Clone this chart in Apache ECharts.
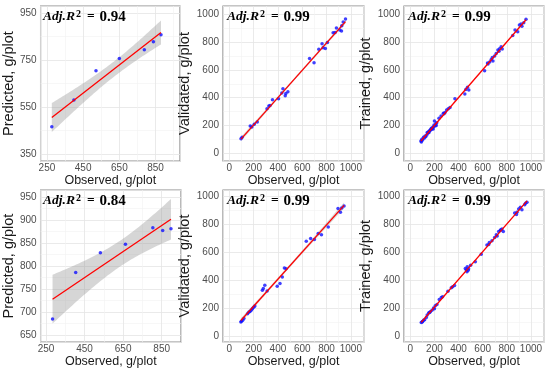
<!DOCTYPE html>
<html><head><meta charset="utf-8">
<script src="https://cdn.jsdelivr.net/npm/echarts@6/dist/echarts.min.js"></script>
<style>html,body{margin:0;padding:0;background:#fff}#c{width:550px;height:374px}</style>
</head><body><div id="c"></div>
<script>
// ---------- data ----------
const tlObserved  = [277, 399, 521, 650, 788, 838, 880];
const tlPredicted = [466, 580, 704, 756, 794, 828, 858];

const tmObserved  = [96, 105, 172, 185, 205, 230, 310, 325, 335, 355, 405, 432, 441, 460, 465, 482, 660, 697, 736, 763, 771, 790, 807, 854, 870, 881, 909, 923, 925, 937, 956];
const tmValidated = [105, 115, 197, 190, 210, 225, 320, 340, 345, 385, 393, 435, 465, 415, 430, 444, 683, 652, 748, 789, 760, 755, 798, 868, 870, 902, 887, 880, 918, 945, 966];

const trObserved = [88, 96, 110, 123, 137, 145, 151, 159, 170, 178, 184, 192, 197, 200, 205, 211, 219, 238, 255, 274, 288, 301, 315, 329, 370, 452, 460, 474, 485, 616, 644, 658, 671, 685, 699, 712, 726, 740, 753, 762, 849, 868, 890, 904, 918, 940, 959,
                    92, 100, 115, 128, 140, 155, 165, 175, 190, 215, 280, 640, 680, 735, 925];
const trTrained  = [89, 101, 115, 125, 132, 144, 156, 163, 173, 173, 185, 192, 204, 233, 197, 211, 221, 252, 269, 288, 293, 312, 321, 329, 393, 427, 460, 475, 456, 595, 643, 657, 676, 664, 700, 719, 743, 753, 767, 751, 847, 887, 875, 923, 930, 940, 964,
                    82, 95, 108, 120, 150, 150, 165, 180, 175, 200, 285, 650, 690, 735, 915];

const blObserved  = [284, 404, 532, 662, 804, 855, 898];
const blPredicted = [685, 786, 829, 847, 883, 877, 881];

const bmObserved  = [95, 100, 110, 120, 150, 160, 170, 180, 190, 200, 210, 272, 280, 292, 311, 394, 417, 436, 453, 467, 633, 669, 700, 731, 758, 814, 894, 914, 925, 944];
const bmValidated = [100, 105, 112, 125, 160, 170, 175, 185, 195, 205, 215, 327, 340, 364, 322, 356, 375, 422, 487, 482, 678, 697, 690, 733, 725, 780, 912, 885, 916, 931];

const brObserved = [91, 102, 119, 133, 152, 166, 180, 193, 207, 221, 240, 257, 268, 312, 340, 351, 367, 456, 464, 472, 483, 500, 539, 588, 635, 655, 677, 699, 713, 732, 746, 760, 771, 865, 884, 898, 912, 925, 948, 967,
                    98, 110, 140, 160, 200, 470, 480, 650, 720, 750, 880, 955];
const brTrained  = [96, 103, 117, 132, 165, 173, 185, 201, 216, 225, 261, 276, 281, 321, 345, 353, 362, 484, 472, 496, 482, 506, 532, 585, 652, 669, 681, 705, 724, 748, 755, 765, 748, 880, 885, 909, 921, 904, 940, 957,
                    100, 112, 150, 168, 195, 460, 470, 655, 715, 760, 870, 950];

const r2Labels = ['0.94', '0.99', '0.99', '0.84', '0.99', '0.99'];
const yTitles  = ['Predicted, g/plot', 'Validated, g/plot', 'Trained, g/plot',
                  'Predicted, g/plot', 'Validated, g/plot', 'Trained, g/plot'];
const xTitle   = 'Observed, g/plot';

// ---------- layout (positions / axis ranges) ----------
const panels = [
  {obs: tlObserved, val: tlPredicted, grid: {left: 39, top: 6, width: 141, height: 155},
   x: {min: 215, max: 985, step: 200, off: 50}, y: {min: 320, max: 980, step: 200, off: 150}},
  {obs: tmObserved, val: tmValidated, grid: {left: 223, top: 6, width: 141, height: 155},
   x: {min: -52, max: 1108, step: 200, off: 0}, y: {min: -55, max: 1060, step: 200, off: 0}},
  {obs: trObserved, val: trTrained, grid: {left: 404, top: 6, width: 140, height: 155},
   x: {min: -52, max: 1108, step: 200, off: 0}, y: {min: -55, max: 1060, step: 200, off: 0}},
  {obs: blObserved, val: blPredicted, grid: {left: 39, top: 190, width: 142, height: 152},
   x: {min: 222, max: 950, step: 200, off: 50}, y: {min: 635, max: 965, step: 50, off: 0}},
  {obs: bmObserved, val: bmValidated, grid: {left: 223, top: 190, width: 141, height: 152},
   x: {min: -52, max: 1108, step: 200, off: 0}, y: {min: -43, max: 1045, step: 200, off: 0}},
  {obs: brObserved, val: brTrained, grid: {left: 404, top: 190, width: 140, height: 152},
   x: {min: -52, max: 1108, step: 200, off: 0}, y: {min: -43, max: 1045, step: 200, off: 0}}
];

// ---------- linear fit + 95% confidence band ----------
function tq975(df) {
  const z = 1.959964, z3 = z*z*z, z5 = z3*z*z, z7 = z5*z*z, z9 = z7*z*z;
  return z + (z3 + z)/(4*df) + (5*z5 + 16*z3 + 3*z)/(96*df*df)
    + (3*z7 + 19*z5 + 17*z3 - 15*z)/(384*Math.pow(df,3))
    + (79*z9 + 776*z7 + 1482*z5 - 1920*z3 - 945*z)/(92160*Math.pow(df,4));
}
function fit(xs, ys) {
  const n = xs.length;
  const mx = xs.reduce((a,b)=>a+b,0)/n, my = ys.reduce((a,b)=>a+b,0)/n;
  let sxx = 0, sxy = 0;
  for (let i = 0; i < n; i++) { sxx += (xs[i]-mx)**2; sxy += (xs[i]-mx)*(ys[i]-my); }
  const b = sxy/sxx, a = my - b*mx;
  let sse = 0;
  for (let i = 0; i < n; i++) sse += (ys[i] - a - b*xs[i])**2;
  const s = Math.sqrt(sse/(n-2)), t = tq975(n-2);
  const x0 = Math.min(...xs), x1 = Math.max(...xs);
  const band = [];
  const N = 60;
  for (let k = 0; k <= N; k++) {
    const x = x0 + (x1 - x0)*k/N;
    const yh = a + b*x;
    const h = t*s*Math.sqrt(1/n + (x-mx)**2/sxx);
    band.push([x, yh - h, yh + h]);
  }
  return {a, b, x0, x1, band};
}

// ---------- build option ----------
const labelFont = 'Liberation Sans, Arial, sans-serif';
const grids = [], xAxes = [], yAxes = [], series = [], titles = [];

panels.forEach((p, i) => {
  grids.push(Object.assign({show: true, borderColor: '#8c8c8c', borderWidth: 1.2, backgroundColor: '#ffffff'}, p.grid));
  const mkAxis = (ax, isX) => ({
    gridIndex: i, type: 'value',
    min: ax.min - ax.off, max: ax.max - ax.off,
    minInterval: ax.step, maxInterval: ax.step,
    axisLine: {show: false}, axisTick: {show: false},
    minorTick: {show: false, splitNumber: 2},
    axisLabel: {show: true, showMinLabel: false, showMaxLabel: false,
      formatter: v => String(Math.round(v + ax.off)),
      color: '#4d4d4d', fontSize: 10, fontFamily: labelFont, margin: isX ? 2 : 4},
    splitLine: {show: true, lineStyle: {color: '#e4e4e4', width: 0.8}},
    minorSplitLine: {show: true, lineStyle: {color: '#f1f1f1', width: 0.6}},
    name: isX ? xTitle : yTitles[i], nameLocation: 'middle', nameGap: isX ? 9 : 21,
    nameTextStyle: {color: '#1a1a1a', fontSize: isX ? 12.5 : 14.5, fontFamily: labelFont}
  });
  xAxes.push(mkAxis(p.x, true));
  yAxes.push(mkAxis(p.y, false));

  const f = fit(p.obs, p.val);
  const ox = p.x.off, oy = p.y.off;
  series.push({
    type: 'custom', xAxisIndex: i, yAxisIndex: i, silent: true, z: 1, clip: true,
    data: [[f.x0 - ox, f.a + f.b*f.x0 - oy]],
    renderItem: (params, api) => {
      const up = f.band.map(q => api.coord([q[0] - ox, q[2] - oy]));
      const lo = f.band.slice().reverse().map(q => api.coord([q[0] - ox, q[1] - oy]));
      return {type: 'polygon', shape: {points: up.concat(lo)},
              style: {fill: 'rgba(153,153,153,0.4)', stroke: null}};
    }
  });
  series.push({
    type: 'scatter', xAxisIndex: i, yAxisIndex: i, z: 2, symbol: 'circle', symbolSize: 3.5,
    itemStyle: {color: '#1010ff'},
    data: p.obs.map((x, k) => [x - ox, p.val[k] - oy])
  });
  series.push({
    type: 'line', xAxisIndex: i, yAxisIndex: i, z: 3, symbol: 'none',
    lineStyle: {color: '#ff0000', width: 1.3},
    data: [[f.x0 - ox, f.a + f.b*f.x0 - oy], [f.x1 - ox, f.a + f.b*f.x1 - oy]]
  });
  titles.push({
    left: p.grid.left + 4, top: p.grid.top + 3, padding: 0,
    text: '{i|Adj.R}{s|2}{e|=}{b|' + r2Labels[i] + '}',
    textStyle: {rich: {
      i: {fontFamily: 'Liberation Serif', fontStyle: 'italic', fontWeight: 'bold', fontSize: 13.5, color: '#000', lineHeight: 16},
      s: {fontFamily: 'Liberation Serif', fontWeight: 'bold', fontSize: 10, color: '#000', lineHeight: 10, padding: [0, 0, 6, 1]},
      e: {fontFamily: 'Liberation Serif', fontWeight: 'bold', fontSize: 13.5, color: '#000', lineHeight: 16, padding: [0, 5, 0, 6]},
      b: {fontFamily: 'Liberation Serif', fontWeight: 'bold', fontSize: 15, color: '#000', lineHeight: 16}
    }}
  });
});

const chart = echarts.init(document.getElementById('c'), null, {renderer: 'canvas'});
chart.setOption({
  animation: false, backgroundColor: '#ffffff',
  title: titles, grid: grids, xAxis: xAxes, yAxis: yAxes, series: series
});
</script></body></html>
